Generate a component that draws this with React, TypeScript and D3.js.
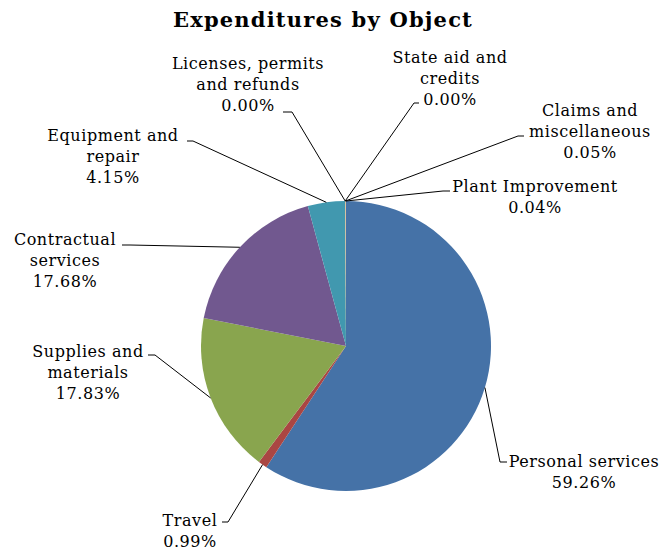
import React from "react";
import * as d3 from "d3";

const categories = [
  "Personal services",
  "Travel",
  "Supplies and materials",
  "Contractual services",
  "Equipment and repair",
  "Licenses, permits and refunds",
  "State aid and credits",
  "Claims and miscellaneous",
  "Plant Improvement",
];
const values = [59.26, 0.99, 17.83, 17.68, 4.15, 0.0, 0.0, 0.05, 0.04];
const labelLines = [
  ["Personal services", "59.26%"],
  ["Travel", "0.99%"],
  ["Supplies and", "materials", "17.83%"],
  ["Contractual", "services", "17.68%"],
  ["Equipment and", "repair", "4.15%"],
  ["Licenses, permits", "and refunds", "0.00%"],
  ["State aid and", "credits", "0.00%"],
  ["Claims and", "miscellaneous", "0.05%"],
  ["Plant Improvement", "0.04%"],
];
const colors = ["#4572A7", "#AA4643", "#89A54E", "#71588F", "#4198AF", "#DB843D", "#93A9CF", "#D9A86A", "#E0B47E"];

// layout: label centre x, first baseline y, elbow point, horizontal end x
const layout = [
  { cx: 584, by: 467, ex: 500, ey: 462, hx: 507 },
  { cx: 190, by: 526, ex: 228, ey: 522, hx: 222 },
  { cx: 88, by: 357, ex: 155, ey: 355, hx: 148 },
  { cx: 65, by: 245, ex: 130, ey: 245, hx: 122 },
  { cx: 113, by: 141, ex: 193, ey: 141, hx: 187 },
  { cx: 248, by: 69, ex: 292, ey: 112, hx: 283 },
  { cx: 450, by: 63, ex: 414, ey: 103, hx: 419 },
  { cx: 590, by: 116, ex: 518, ey: 136, hx: 524 },
  { cx: 535, by: 192, ex: 443, ey: 191, hx: 450 },
];

const W = 661;
const H = 550;
const cx = 346;
const cy = 346;
const R = 145;
const font = "'DejaVu Serif', serif";

export default function App() {
  const pie = d3.pie<number>().sort(null).value((d) => d);
  const arcs = pie(values);
  const arc = d3.arc<d3.PieArcDatum<number>>().innerRadius(0).outerRadius(R);
  const edge = d3.arc<d3.PieArcDatum<number>>().innerRadius(R).outerRadius(R);

  return (
    <svg width={W} height={H} style={{ position: "absolute", left: 0, top: 0, background: "#fff" }}>
      <text x={323} y={27} textAnchor="middle" fontFamily={font} fontWeight="bold" fontSize={21} letterSpacing={1.2} fill="#000">
        Expenditures by Object
      </text>
      <g transform={`translate(${cx},${cy})`}>
        {arcs.map((a, i) =>
          a.value > 0 ? <path key={categories[i]} d={arc(a) || ""} fill={colors[i]} /> : null
        )}
      </g>
      {arcs.map((a, i) => {
        const [px, py] = edge.centroid(a);
        const L = layout[i];
        return (
          <polyline
            key={"l" + i}
            points={`${cx + px},${cy + py} ${L.ex},${L.ey} ${L.hx},${L.ey}`}
            fill="none"
            stroke="#000"
            strokeWidth={1}
          />
        );
      })}
      {labelLines.map((lines, i) => (
        <text key={"t" + i} fontFamily={font} fontSize={16} letterSpacing={0.55} fill="#000" textAnchor="middle">
          {lines.map((s, j) => (
            <tspan key={j} x={layout[i].cx} y={layout[i].by + j * 20.8}>
              {s}
            </tspan>
          ))}
        </text>
      ))}
    </svg>
  );
}
